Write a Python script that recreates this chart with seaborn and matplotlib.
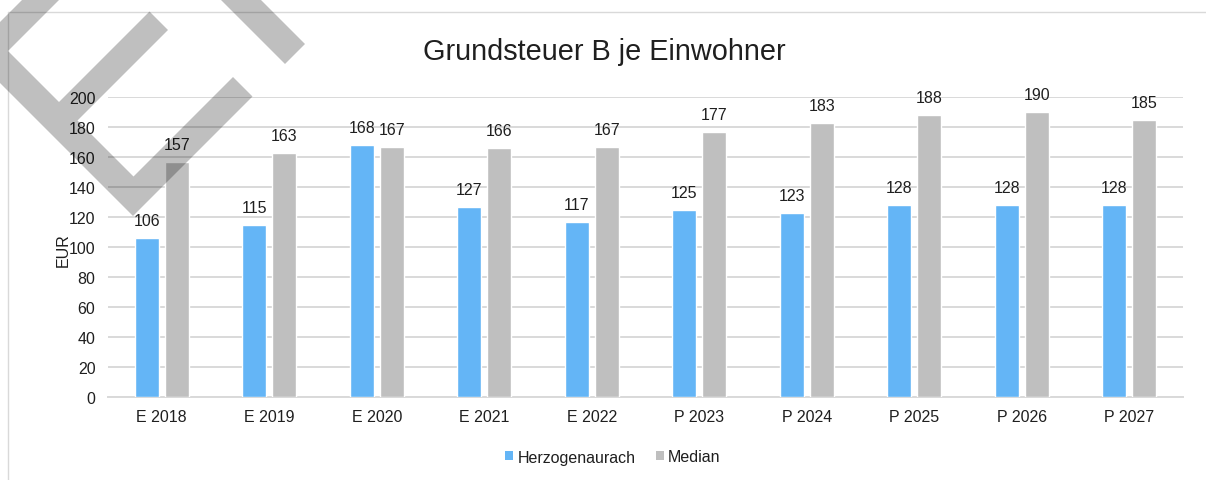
import numpy as np
import pandas as pd
import seaborn as sns
import matplotlib.pyplot as plt
from matplotlib.patches import Polygon, Patch
from matplotlib.lines import Line2D

# data
jahre = ['E 2018', 'E 2019', 'E 2020', 'E 2021', 'E 2022',
         'P 2023', 'P 2024', 'P 2025', 'P 2026', 'P 2027']
herzogenaurach = [106, 115, 168, 127, 117, 125, 123, 128, 128, 128]
median = [157, 163, 167, 166, 167, 177, 183, 188, 190, 185]
serien = ['Herzogenaurach', 'Median']
farben = ['#64B5F6', '#BFBFBF']

df = pd.DataFrame({'jahr': jahre * 2,
                   'wert': herzogenaurach + median,
                   'serie': [serien[0]] * len(jahre) + [serien[1]] * len(jahre)})

sns.set_theme(style='white')
plt.rcParams['font.family'] = ['Liberation Sans', 'DejaVu Sans']
txt = '#1F1F1F'
fs = 11.5
W, H = 1206, 481

fig = plt.figure(figsize=(W / 100, H / 100), dpi=100)
ax = fig.add_axes([108 / W, 1 - 398 / H, (1183 - 108) / W, 300 / H])

sns.barplot(data=df, x='jahr', y='wert', hue='serie', palette=farben,
            saturation=1, width=0.56, gap=0.2, ax=ax, legend=False, zorder=3)

for cont in ax.containers:
    ax.bar_label(cont, padding=7, fontsize=fs, color=txt)

ax.set_ylim(0, 200)
ax.set_yticks(range(0, 201, 20))
ax.set_xlim(-0.5, len(jahre) - 0.5)
ax.set_xlabel('')
ax.set_ylabel('')
ax.yaxis.grid(True, color='#D9D9D9', lw=1.4, zorder=0)
ax.set_axisbelow(True)
for s in ['top', 'right', 'left']:
    ax.spines[s].set_visible(False)
ax.spines['bottom'].set_color('#D9D9D9')
ax.spines['bottom'].set_linewidth(1.4)
ax.tick_params(axis='both', length=0, labelsize=fs, colors=txt)
ax.tick_params(axis='y', pad=9)
ax.tick_params(axis='x', pad=9)

fig.text(604 / W, 1 - 52 / H, 'Grundsteuer B je Einwohner', fontsize=20.8,
         color=txt, ha='center', va='center')
fig.text(63 / W, 1 - 250 / H, 'EUR', fontsize=fs, color=txt, rotation=90,
         ha='center', va='center')

handles = [Patch(facecolor=c, edgecolor='none') for c in farben]
fig.legend(handles, serien, loc='center', bbox_to_anchor=(613 / W, 1 - 458 / H),
           ncol=2, frameon=False, fontsize=fs, handlelength=0.5, handleheight=0.5,
           handletextpad=0.25, columnspacing=1.3, labelcolor=txt)

# chart border (top and left only visible)
fig.add_artist(Line2D([8 / W, 1], [1 - 12.5 / H] * 2, transform=fig.transFigure,
                      color='#D9D9D9', lw=1))
fig.add_artist(Line2D([8 / W] * 2, [1 - 12.5 / H, 0], transform=fig.transFigure,
                      color='#D9D9D9', lw=1))

# watermark overlay
def px(pts):
    return [(x / W, 1 - y / H) for x, y in pts]

form1 = [(33, -10), (-30.5, 53.5), (133, 217), (252.5, 97.5), (233, 78),
         (133.5, 177.5), (77.5, 121.5), (168, 31), (149.5, 12.5), (59, 103),
         (8, 52), (70, -10)]
form2 = [(210, -10), (250, -10), (305, 45), (285, 65)]
for f in [form1, form2]:
    fig.add_artist(Polygon(px(f), closed=True, transform=fig.transFigure,
                           facecolor='black', edgecolor='none', alpha=0.25, zorder=10))

fig.savefig('out.png', dpi=100)
